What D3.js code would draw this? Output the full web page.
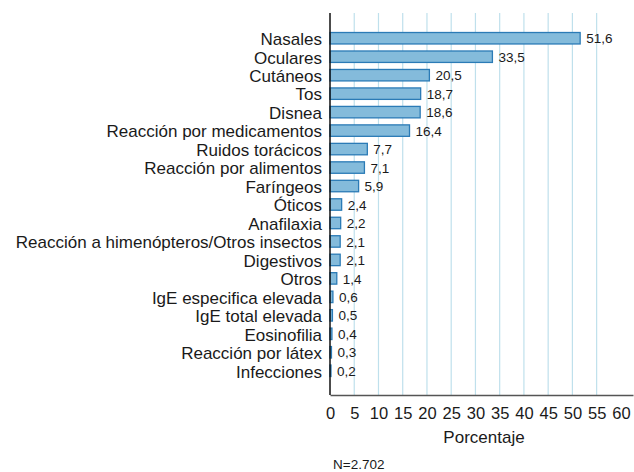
<!DOCTYPE html>
<html>
<head>
<meta charset="utf-8">
<script src="https://cdn.jsdelivr.net/npm/d3@7"></script>
<style>
  body { margin: 0; background: #fff; }
  text { font-family: "Liberation Sans", Arial, sans-serif; fill: #1a1a1a; }
</style>
</head>
<body>
<div id="chart"></div>
<script>
// Chart data
var categories = ['Nasales', 'Oculares', 'Cutáneos', 'Tos', 'Disnea', 'Reacción por medicamentos',
  'Ruidos torácicos', 'Reacción por alimentos', 'Faríngeos', 'Óticos', 'Anafilaxia',
  'Reacción a himenópteros/Otros insectos', 'Digestivos', 'Otros', 'IgE especifica elevada',
  'IgE total elevada', 'Eosinofilia', 'Reacción por látex', 'Infecciones'];
var values = [51.6, 33.5, 20.5, 18.7, 18.6, 16.4, 7.7, 7.1, 5.9, 2.4, 2.2, 2.1, 2.1, 1.4, 0.6, 0.5, 0.4, 0.3, 0.2];
var xTicks = [0, 5, 10, 15, 20, 25, 30, 35, 40, 45, 50, 55, 60];
var xTitle = 'Porcentaje';
var note = 'N=2.702';

var svgWidth = 634;
var svgHeight = 472;

var plot = { left: 330, right: 633, top: 13, bottom: 395 };

var svg = d3.select('#chart')
  .append('svg')
  .attr('width', svgWidth)
  .attr('height', svgHeight);

var data = categories.map((c, i) => ({ name: c, value: values[i] }));

var x = d3.scaleLinear()
  .domain([0, 62.5])
  .range([plot.left, plot.right]);

var y = d3.scaleBand()
  .domain(categories)
  .range([29, 380])
  .paddingInner(0.38)
  .paddingOuter(0.19);

// gridlines
svg.append('g')
  .selectAll('line')
  .data(xTicks.filter(t => t > 0 && t < 60))
  .enter()
  .append('line')
  .attr('x1', d => x(d)).attr('x2', d => x(d))
  .attr('y1', plot.top).attr('y2', plot.bottom)
  .attr('stroke', '#bfe0ec')
  .attr('stroke-width', 1.2);

// bars
svg.append('g')
  .selectAll('rect')
  .data(data)
  .enter()
  .append('rect')
  .attr('x', x(0))
  .attr('y', d => y(d.name))
  .attr('width', d => x(d.value) - x(0))
  .attr('height', y.bandwidth())
  .attr('fill', '#84bbdb')
  .attr('stroke', '#2b7bb6')
  .attr('stroke-width', 1.3);

// value labels
svg.append('g')
  .selectAll('text')
  .data(data)
  .enter()
  .append('text')
  .attr('x', d => x(d.value) + 6)
  .attr('y', d => y(d.name) + y.bandwidth() / 2)
  .attr('dy', '0.38em')
  .attr('font-size', 13.5)
  .text(d => String(d.value).replace('.', ','));

// bottom axis
var bottomAxis = d3.axisBottom(x)
  .tickValues(xTicks)
  .tickSize(0)
  .tickPadding(12);

var xAxisG = svg.append('g')
  .attr('transform', `translate(0, ${plot.bottom})`)
  .call(bottomAxis);
xAxisG.select('.domain').attr('stroke', '#555').attr('stroke-width', 1.5);
xAxisG.selectAll('text')
  .attr('font-size', 16.5)
  .attr('fill', '#1a1a1a');

// left axis
var leftAxis = d3.axisLeft(y)
  .tickSize(0)
  .tickPadding(8);

var yAxisG = svg.append('g')
  .attr('transform', `translate(${plot.left}, 0)`)
  .call(leftAxis);
yAxisG.select('.domain').remove();
yAxisG.selectAll('text')
  .attr('font-size', 17)
  .attr('dy', '0.4em')
  .attr('fill', '#1a1a1a');

svg.append('line')
  .attr('x1', plot.left).attr('x2', plot.left)
  .attr('y1', plot.top).attr('y2', plot.bottom)
  .attr('stroke', '#111')
  .attr('stroke-width', 1.5);

// titles
svg.append('text')
  .attr('x', 484)
  .attr('y', 443)
  .attr('text-anchor', 'middle')
  .attr('font-size', 17)
  .text(xTitle);

svg.append('text')
  .attr('x', 333)
  .attr('y', 469)
  .attr('font-size', 13.5)
  .text(note);
</script>
</body>
</html>
